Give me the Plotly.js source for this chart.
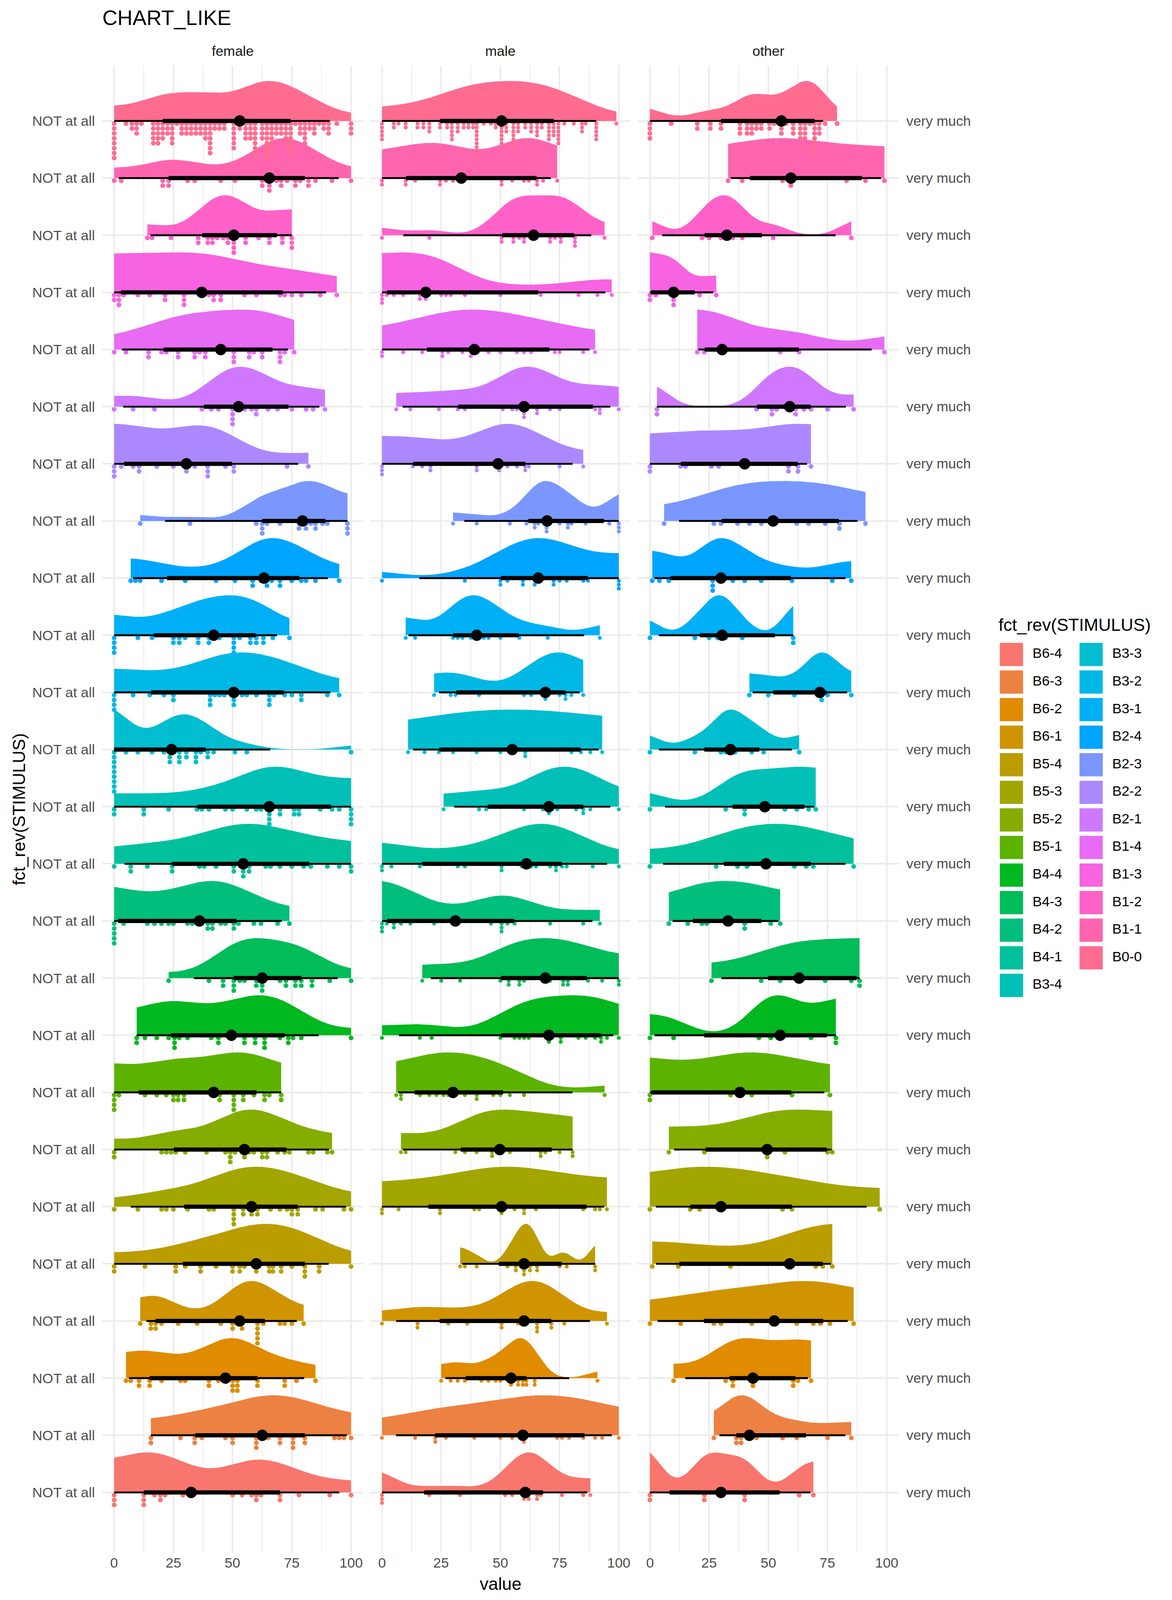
<!DOCTYPE html>
<html>
<head>
<meta charset="utf-8">
<script src="https://cdn.plot.ly/plotly-3.0.1.min.js"></script>
<style>
html, body { margin: 0; padding: 0; background: #fff; overflow: hidden; }
#graph { width: 100vw; height: 100vh; }
</style>
</head>
<body>
<div id="graph"></div>
<script>
// stimuli from top row to bottom row
const stimuli = ['B0-0', 'B1-1', 'B1-2', 'B1-3', 'B1-4', 'B2-1', 'B2-2', 'B2-3', 'B2-4',
    'B3-1', 'B3-2', 'B3-3', 'B3-4', 'B4-1', 'B4-2', 'B4-3', 'B4-4',
    'B5-1', 'B5-2', 'B5-3', 'B5-4', 'B6-1', 'B6-2', 'B6-3', 'B6-4'];
const panels = ['female', 'male', 'other'];
const xTicks = [0, 25, 50, 75, 100];
const leftLabel = 'NOT at all';
const rightLabel = 'very much';

// ratings per stimulus (same order as stimuli)
const female = [
    [0,0,0,0,0,0,0,0,5,7.5,7.5,9.5,9.5,9.5,11.5,16.5,16.5,16.5,16.5,16.5,18.5,18.5,18.5,18.5,18.5,20.5,20.5,20.5,20.5,22.5,22.5,22.5,24.5,24.5,24.5,24.5,24.5,26.5,28.5,28.5,28.5,30.5,30.5,30.5,32.5,32.5,32.5,34.5,34.5,34.5,36.5,36.5,36.5,38.5,38.5,38.5,38.5,40.5,40.5,40.5,40.5,40.5,40.5,40.5,42.5,42.5,44.5,44.5,46.5,46.5,50.5,50.5,50.5,50.5,50.5,50.5,53,53,55.5,55.5,55.5,55.5,57.5,57.5,57.5,57.5,59.5,59.5,59.5,59.5,59.5,59.5,59.5,59.5,62.5,62.5,62.5,62.5,64.5,64.5,64.5,64.5,64.5,64.5,64.5,64.5,66.5,66.5,66.5,66.5,66.5,66.5,66.5,68.5,68.5,68.5,70.5,70.5,70.5,72.5,72.5,72.5,72.5,72.5,74.5,74.5,74.5,74.5,74.5,74.5,74.5,76.5,78.5,78.5,78.5,80.5,80.5,80.5,80.5,80.5,82.5,82.5,84.5,84.5,84.5,86.5,88.5,88.5,90.5,90.5,90.5,94,100,100,100],
    [0,3,20.5,20.5,23,23,31,34,45,51,62.5,62.5,65.5,65.5,65.5,68.5,70.5,70.5,73,76.5,76.5,78.5,82,82,85,92,100],
    [14,16,24,35.5,35.5,39.5,39.5,41.5,41.5,43.5,46,48,48,50.5,50.5,50.5,50.5,55.5,55.5,61,65.5,65.5,71,71,75,75,75],
    [0,0,2,2,2,4,10,15,21.5,21.5,29.5,29.5,29.5,37,40,42,42,45,45,55,60,70,72,75,79,87,94],
    [0,5,14.5,14.5,20,22,27,27,34,34,36,38.5,38.5,45,50.5,50.5,50.5,57,57,59,62.5,62.5,70,70,70,72,76],
    [0,8,17,37,41,44,50,50,50,50,55,58,60,60,65,69,75,81,84,89],
    [0,0,0,3,8,10.5,10.5,18,25,30.5,30.5,34,39.5,39.5,39.5,47,50.5,50.5,73,82],
    [11,32,60,62.5,62.5,62.5,64.5,70,78,78,79.5,81,81,83,85,85,88,90,98.5,98.5,98.5],
    [7,9,11,20,30,43,51,58.5,58.5,62,64.5,64.5,66.5,70,70,75,79,81,85,95],
    [0,0,0,0,10,16,25,25,27.5,27.5,30,35.5,35.5,40,40,42,42.5,44.5,50.5,50.5,50.5,50.5,53,57.5,57.5,60,60,63,63,67,74],
    [0,0,0,0,8,15,21,25,25,40.5,40.5,40.5,42.5,44.5,46.5,50.5,50.5,50.5,54,56,60,65.5,65.5,65.5,67.5,72,75,79,79,90,95],
    [0,0,0,0,0,0,0,0,0,5,10,16,21,23.5,23.5,23.5,25,27.5,27.5,27.5,30.5,30.5,34.5,34.5,34.5,36.5,39.5,39.5,42,51,56,100],
    [0,0,12.5,12.5,23,35,37,40,47,50,56,60,62,65.5,65.5,65.5,65.5,65.5,70,70,76,76,78,78,87,92,95,100,100,100,100],
    [0,7,7,14,24.5,24.5,36,38,43,50.5,50.5,54.5,54.5,54.5,57,57,64,66,70,75,80,83,90,95,100,100],
    [0,0,0,0,0,4,14,17,20,23,25,31,33,36,39.5,39.5,41.5,41.5,45,47,50.5,50.5,52.5,59,62,69,74],
    [23,40,46,46,50.5,50.5,50.5,53,55,60,60,60.5,62.5,62.5,62.5,70,72.5,72.5,76.5,76.5,79,79,83.5,83.5,91,100],
    [9.5,9.5,13,18,23,25.5,25.5,25.5,27.5,31,41,44,44,49.5,55,55,59.5,59.5,63.5,63.5,63.5,70,73.5,73.5,75.5,79,100],
    [0,0,0,0,2,13,18,22,25,25,27,27,29.5,29.5,42,44.5,44.5,50.5,50.5,50.5,50.5,54.5,54.5,59,63.5,63.5,65.5,70.5,70.5],
    [0,0,20,22,24,26,30,39,47,49,49,49,51,55,55,57,59,62.5,62.5,64.5,64.5,69,72,74,82,84,90,92],
    [0,10,20,22,25,31,40,42,50.5,50.5,50.5,50.5,54.5,54.5,58,58,60.5,60.5,66,70,73,75,75,77.5,77.5,85,88,97,100],
    [0,0,13,26,26,30,36.5,36.5,43,50,50,53,53,55,60,60,65.5,65.5,67,67,70.5,70.5,75,80.5,80.5,80.5,86.5,86.5,100],
    [11,15.5,15.5,17.5,17.5,20,27,35,45,50,50,52,54,54,60.5,60.5,60.5,60.5,60.5,63,70,72,75,80],
    [5,7,10.5,10.5,15,15,20,28,30,40,40,44,47,50,50,50,52,52,52,60.5,60.5,72,72,77,85],
    [15.5,15.5,28,34,34,37,47,50,50,60,60,60,62.5,65,70,70,75.5,75.5,75.5,80.5,80.5,93,95,97,100],
    [0,0,0,12.5,12.5,12.5,17,19.5,19.5,21.5,29,32.5,50,54,58,60,60,62,70,70,78,91,100]
];

const male = [
    [0,0,0,0,0,5,5,7,10,10,15,15,17.5,17.5,20,20,20,24.5,24.5,27.5,27.5,29.5,29.5,29.5,29.5,29.5,32,32,32,34.5,34.5,36.5,36.5,38.5,38.5,40,40,40,40,40,40,40,40,40,40,43,46,48,48,50.5,50.5,50.5,50.5,50.5,50.5,52.5,52.5,52.5,55.5,55.5,55.5,55.5,55.5,55.5,55.5,55.5,57.5,57.5,57.5,60.5,60.5,63,63,63,65.5,65.5,65.5,65.5,67.5,67.5,70.5,70.5,70.5,70.5,70.5,72.5,72.5,72.5,72.5,74.5,74.5,74.5,74.5,74.5,74.5,77,81,84.5,84.5,84.5,86,90.5,90.5,90.5,90.5,90.5,99],
    [0,0,10,10,14,24.5,24.5,27,30,33.5,50.5,50.5,55,60,62,65.5,65.5,68,74],
    [0,20,50.5,50.5,55.5,55.5,58,60,60,64,71,71,73,75.5,75.5,81.5,81.5,81.5,94],
    [0,0,0,2,5,9,16,16,18.5,18.5,25,27,29,35,50,67,83,91,97],
    [0,0,9,17,25.5,25.5,28,34,37.5,37.5,40.5,45,50,57,60,63,73,75,85,90],
    [6,12,24,32,35,51,55,57,60,60,60,65.5,65.5,71,75,90,92,92,100],
    [0,0,0,13,17,20.5,20.5,40,40,49,49.5,49.5,53,57,60.5,60.5,62,75,85],
    [30,40,54,61,64.5,64.5,66,69.5,69.5,69.5,70,75,78.5,78.5,80,86,96,100,100,100],
    [0,35,50,50,53,59.5,59.5,64.5,64.5,66,72.5,72.5,75,78,85,87,100,100,100],
    [10,14,30,32,34,37.5,40,43,45,50,58,70,92],
    [22,29,31,41,60,63,69,69,75,77.5,77.5,80,85],
    [11,18,24,30,40,50,55,60.5,60.5,80,84,88,93],
    [26,41,44,60,68,70.5,70.5,74,82,85,85,88,100],
    [0,0,4,16,32,35,50.5,50.5,59,61,63,65,71,73.5,73.5,76,78,89,100],
    [0,0,0,2,5,5,8,12,22,31,46,50.5,50.5,50.5,53,56,71,85,92],
    [17,25,33,50,53.5,53.5,58,58,60,69,71,76.5,76.5,78.5,78.5,87,93,100,100],
    [0,16,21,50,56,58,60,62,70.5,70.5,75.5,75.5,83,86,90,92.5,92.5,95,100],
    [6,8,8,16,20,23,26,28,30,35,40,40,47,50,54,60,94],
    [8,10,31,35,40,46.5,46.5,49.5,50,54,67,67,69,75,80.5,80.5],
    [0,0,7,24.5,24.5,39,41,50.5,50.5,56,60,60,65,85,90,92,95],
    [33,35,40,53,56.5,56.5,60,60,60,62.5,62.5,65.5,65.5,75,78,90,90],
    [0,15,15,28,36,50.5,50.5,57.5,60,60.5,65.5,65.5,65.5,71.5,71.5,77,95],
    [25,29,32,35,42,45,48,50,54.5,54.5,57.5,57.5,59.5,59.5,61,61,64.5,64.5,91],
    [0,14,22.5,22.5,27,39,50,55,59,60,60,74,76,79,85,90,93,100],
    [0,0,0,20,33,52,55,60,60,61,62,62,65.5,65.5,67,76,85,88]
];

const other = [
    [0,0,0,0,9,20,20,25.5,25.5,30,30,38,38,38,41,41,41,43,43,43,45,45,47,47,50.5,50.5,52.5,55.5,55.5,55.5,57.5,60.5,60.5,60.5,63.5,63.5,63.5,63.5,65.5,65.5,65.5,65.5,67.5,69.5,69.5,69.5,69.5,69.5,69.5,69.5,71.5,71.5,71.5,74,79],
    [33,39,56,59.5,59.5,83,91,99],
    [1,22,25,30,32.5,35,39,52,85],
    [0,0,2.5,10,10,10,21,28],
    [20,23,29.5,30.5,55,63,99],
    [3,3,45,51.5,51.5,53.5,59,61.5,61.5,65,68,75,86],
    [0,0,13,15,26,29,40,40.5,58.5,58.5,62.5,62.5,68],
    [6,27,30,37,42,47,52,62,67,74,80,80,91],
    [1,4,8,26.5,26.5,26.5,30,35,40,47,60,77,85],
    [0,19,25,28.5,30.5,32,39,60.5,60.5],
    [42,50,61,71,72.5,72.5,75,85],
    [0,19,30,32,34,36,43,48,63],
    [0,32,40,40,48.5,57,62,67,70],
    [0,28,37,41,49,61,66,69,86],
    [8,16,22,24,33,40,40,51,55],
    [26,47,55,62.5,63,74,85,88.5,88.5],
    [0,10,46,51,55,55.5,68,78.5,78.5],
    [0,0,34,38,43,60,76],
    [8,23,49.5,49.5,57,75,77],
    [0,17,21,30,56,60,97],
    [1,12,34,59,70,73,77],
    [0,13,27,30,43,52.5,62,69,72,76,86],
    [10,32,35,35,43.5,43.5,60.5,60.5,62.5,68],
    [27,36.5,36.5,38.5,38.5,42,45,56,62,75,85],
    [0,0,23,23,30,40,40,63,69]
];

const FONT = 'Liberation Sans, Arial, sans-serif';
const SLAB_H = 0.7;          // slab height in rows
const DOT_OFF = 0.046;       // first dot below the row line
const BOUND_PAD = 0.6;       // reflection bound beyond the data, in bandwidths
const dotStyle = [           // per panel: marker size px, stack step in rows
    {size: 12.5, step: 0.086},
    {size: 10.4, step: 0.069},
    {size: 12.5, step: 0.086}
];

// the chart is laid out for 3000x4200; px sizes follow the real viewport
const W = window.innerWidth || 3000;
const H = window.innerHeight || 4200;
const K = Math.min(W / 3000, H / 4200);
function px(v) { return v * K; }

// ggplot2 hue palette (hcl, l=65, c=100)
function hcl(h, c, l) {
    const WY = 100, Wu = 0.1978398, Wv = 0.4683363;
    const hr = h * Math.PI / 180;
    const U = c * Math.cos(hr), V = c * Math.sin(hr);
    const Y = WY * (l > 7.999592 ? Math.pow((l + 16) / 116, 3) : l / 903.3);
    const u = U / (13 * l) + Wu;
    const v = V / (13 * l) + Wv;
    const X = 9.0 * Y * u / (4 * v);
    const Z = -X / 3 - 5 * Y + 3 * Y / v;
    const lin = [
        (3.240479 * X - 1.537150 * Y - 0.498535 * Z) / WY,
        (-0.969256 * X + 1.875992 * Y + 0.041556 * Z) / WY,
        (0.055648 * X - 0.204043 * Y + 1.057311 * Z) / WY
    ];
    return '#' + lin.map(function (t) {
        let g = t > 0.00304 ? 1.055 * Math.pow(t, 1 / 2.4) - 0.055 : 12.92 * t;
        g = Math.min(1, Math.max(0, g));
        return Math.round(255 * g).toString(16).padStart(2, '0');
    }).join('');
}

const nLev = stimuli.length;
// level i counts from the bottom row (fct_rev)
function colorOf(s) {
    const i = nLev - 1 - s;
    return hcl(15 + 360 * i / nLev, 100, 65);
}

function quantile(sorted, p) {
    const h = (sorted.length - 1) * p;
    const lo = Math.floor(h);
    const hi = Math.min(lo + 1, sorted.length - 1);
    return sorted[lo] + (h - lo) * (sorted[hi] - sorted[lo]);
}

function sdev(x) {
    const m = x.reduce((a, b) => a + b, 0) / x.length;
    return Math.sqrt(x.reduce((a, b) => a + (b - m) * (b - m), 0) / (x.length - 1));
}

function nrd0(sorted) {
    const hi = sdev(sorted);
    let lo = Math.min(hi, (quantile(sorted, 0.75) - quantile(sorted, 0.25)) / 1.34);
    if (!(lo > 0)) lo = hi || 1;
    return 0.9 * lo * Math.pow(sorted.length, -0.2);
}

function phi(x, h, order) {
    const n = x.length;
    let sum = 0;
    for (let i = 0; i < n; i++) {
        for (let j = i + 1; j < n; j++) {
            const d = (x[i] - x[j]) / h;
            const del = d * d;
            if (del >= 1000) continue;
            if (order === 4) sum += Math.exp(-del / 2) * (del * del - 6 * del + 3);
            else sum += Math.exp(-del / 2) * (del * del * del - 15 * del * del + 45 * del - 15);
        }
    }
    if (order === 4) return (2 * sum + 3 * n) / (n * (n - 1) * Math.pow(h, 5) * Math.sqrt(2 * Math.PI));
    return (2 * sum - 15 * n) / (n * (n - 1) * Math.pow(h, 7) * Math.sqrt(2 * Math.PI));
}

// Sheather-Jones direct plug-in, like bw.SJ(method = "dpi")
function bwDpi(sorted) {
    const n = sorted.length;
    let scale = Math.min(sdev(sorted), (quantile(sorted, 0.75) - quantile(sorted, 0.25)) / 1.349);
    if (!(scale > 0)) scale = sdev(sorted) || 1;
    const b = 1.23 * scale * Math.pow(n, -1 / 9);
    const c1 = 1 / (2 * Math.sqrt(Math.PI) * n);
    const TD = -phi(sorted, b, 6);
    if (!(TD > 0)) return nrd0(sorted);
    const res = Math.pow(c1 / phi(sorted, Math.pow(2.394 / (n * TD), 1 / 7), 4), 1 / 5);
    return (isFinite(res) && res > 0) ? res : nrd0(sorted);
}

// density reflected a little beyond the data range, drawn over the data range
function boundedDensity(sorted, bw, nGrid) {
    const x0 = sorted[0], x1 = sorted[sorted.length - 1];
    const a = x0 - BOUND_PAD * bw, b = x1 + BOUND_PAD * bw;
    const xs = [], ds = [];
    for (let g = 0; g < nGrid; g++) {
        const x = x0 + (x1 - x0) * g / (nGrid - 1);
        let d = 0;
        sorted.forEach(function (v) {
            [v, 2 * a - v, 2 * b - v].forEach(function (w) {
                const z = (x - w) / bw;
                d += Math.exp(-0.5 * z * z);
            });
        });
        xs.push(x);
        ds.push(d);
    }
    return {x: xs, d: ds};
}

function axisName(p, letter) {
    return p === 0 ? letter : letter + (p + 1);
}

function buildTraces() {
    const slabs = [], dots = [], thin = [], thick = [], points = [];
    [female, male, other].forEach(function (data, p) {
        const xa = axisName(p, 'x');
        const dx = [], dy = [], dc = [];
        const tx = [], ty = [], kx = [], ky = [], mx = [], my = [];
        data.forEach(function (vals, s) {
            const row = nLev - s;
            const col = colorOf(s);
            const sorted = vals.slice().sort((a, b) => a - b);

            const dens = boundedDensity(sorted, bwDpi(sorted), 240);
            const dmax = Math.max.apply(null, dens.d);
            const sx = [sorted[0]].concat(dens.x, [sorted[sorted.length - 1]]);
            const sy = [row].concat(dens.d.map(d => row + SLAB_H * d / dmax), [row]);
            slabs.push({
                type: 'scatter', mode: 'lines', x: sx, y: sy, xaxis: xa, yaxis: 'y',
                fill: 'toself', fillcolor: col, line: {width: 0, color: col},
                hoverinfo: 'skip', showlegend: false
            });

            const stack = {};
            sorted.forEach(function (v) {
                const k = stack[v] || 0;
                stack[v] = k + 1;
                dx.push(v);
                dy.push(row - DOT_OFF - k * dotStyle[p].step);
                dc.push(col);
            });

            tx.push(quantile(sorted, 0.025), quantile(sorted, 0.975), null);
            ty.push(row, row, null);
            kx.push(quantile(sorted, 0.17), quantile(sorted, 0.83), null);
            ky.push(row, row, null);
            mx.push(quantile(sorted, 0.5));
            my.push(row);
        });
        dots.push({
            type: 'scatter', mode: 'markers', x: dx, y: dy, xaxis: xa, yaxis: 'y',
            marker: {size: px(dotStyle[p].size), color: dc, line: {width: 0}},
            hoverinfo: 'skip', showlegend: false
        });
        thin.push({
            type: 'scatter', mode: 'lines', x: tx, y: ty, xaxis: xa, yaxis: 'y',
            line: {color: '#000000', width: px(5)}, hoverinfo: 'skip', showlegend: false
        });
        thick.push({
            type: 'scatter', mode: 'lines', x: kx, y: ky, xaxis: xa, yaxis: 'y',
            line: {color: '#000000', width: px(11)}, hoverinfo: 'skip', showlegend: false
        });
        points.push({
            type: 'scatter', mode: 'markers', x: mx, y: my, xaxis: xa, yaxis: 'y',
            marker: {size: px(30), color: '#000000', line: {width: 0}},
            hoverinfo: 'skip', showlegend: false
        });
    });
    return slabs.concat(dots, thin, thick, points);
}

// legend drawn as a small grid: two columns of 13
function legendTraces() {
    const lx = [], ly = [], lc = [], lt = [], tx = [];
    for (let i = 0; i < nLev; i++) {
        const s = nLev - 1 - i;
        const c = Math.floor(i / 13), r = i % 13;
        lx.push(c);
        ly.push(r);
        lc.push(colorOf(s));
        lt.push(stimuli[s]);
        tx.push(c + 0.265);
    }
    return [{
        type: 'scatter', mode: 'markers', x: lx, y: ly, xaxis: 'x4', yaxis: 'y4',
        marker: {symbol: 'square', size: px(61), color: lc, line: {width: 0}},
        hoverinfo: 'skip', showlegend: false, cliponaxis: false
    }, {
        type: 'scatter', mode: 'text', x: tx, y: ly, xaxis: 'x4', yaxis: 'y4',
        text: lt, textposition: 'middle right',
        textfont: {family: FONT, size: px(36.7), color: '#000000'},
        hoverinfo: 'skip', showlegend: false, cliponaxis: false
    }];
}

function xAxis(domain) {
    return {
        domain: domain, range: [-5, 105], anchor: 'y',
        tickmode: 'array', tickvals: xTicks, showticklabels: false, ticks: '',
        showgrid: true, gridcolor: '#EBEBEB', gridwidth: px(4.4),
        minor: {tick0: 0, dtick: 12.5, showgrid: true, gridcolor: '#EBEBEB', gridwidth: px(2.2)},
        zeroline: false, showline: false, fixedrange: true
    };
}

function init_plot() {
    const rows = stimuli.map((s, i) => nLev - i);
    const domains = [[0.0873, 0.30963], [0.31583, 0.53807], [0.5444, 0.76677]];
    const tickFont = {family: FONT, size: px(36.7), color: '#4D4D4D'};

    const annotations = [];
    panels.forEach(function (name, p) {
        annotations.push({
            text: name, xref: axisName(p, 'x') + ' domain', x: 0.5, xanchor: 'center',
            yref: 'paper', y: 0.9681, yanchor: 'middle', showarrow: false,
            font: {family: FONT, size: px(36.7), color: '#1A1A1A'}
        });
        // x tick labels under each panel
        xTicks.forEach(function (t) {
            annotations.push({
                text: String(t), xref: axisName(p, 'x'), x: t, xanchor: 'center',
                yref: 'paper', y: 0.0231, yanchor: 'middle', showarrow: false,
                font: tickFont
            });
        });
    });
    rows.forEach(function (r) {
        annotations.push({
            text: rightLabel, xref: 'paper', x: 0.7727, xanchor: 'left',
            yref: 'y', y: r, yanchor: 'middle', showarrow: false,
            font: tickFont
        });
    });
    annotations.push({
        text: 'value', xref: 'paper', x: 0.427, xanchor: 'center',
        yref: 'paper', y: 0.0102, yanchor: 'middle', showarrow: false,
        font: {family: FONT, size: px(45.8), color: '#000000'}
    });
    annotations.push({
        text: 'fct_rev(STIMULUS)', xref: 'paper', x: 0.016, xanchor: 'center',
        yref: 'paper', y: 0.4943, yanchor: 'middle', textangle: -90, showarrow: false,
        font: {family: FONT, size: px(45.8), color: '#000000'}
    });
    annotations.push({
        text: 'fct_rev(STIMULUS)', xref: 'paper', x: 0.8513, xanchor: 'left',
        yref: 'paper', y: 0.6095, yanchor: 'middle', showarrow: false,
        font: {family: FONT, size: px(45.8), color: '#000000'}
    });

    const layout = {
        width: W, height: H,
        margin: {l: 0, r: 0, t: 0, b: 0},
        paper_bgcolor: '#FFFFFF', plot_bgcolor: '#FFFFFF',
        font: {family: FONT, color: '#000000'},
        title: {
            text: 'CHART_LIKE', x: 0.0873, xanchor: 'left', xref: 'paper',
            y: 0.989, yanchor: 'middle', font: {family: FONT, size: px(55), color: '#000000'}
        },
        showlegend: false,
        xaxis: xAxis(domains[0]),
        xaxis2: xAxis(domains[1]),
        xaxis3: xAxis(domains[2]),
        yaxis: {
            domain: [0.029524, 0.95905], range: [-0.056, 25.97], anchor: 'x',
            tickmode: 'array', tickvals: rows, ticktext: rows.map(() => leftLabel),
            ticks: '', ticklabelstandoff: Math.round(px(18)),
            tickfont: tickFont,
            showgrid: true, gridcolor: '#EBEBEB', gridwidth: px(4.4),
            zeroline: false, showline: false, fixedrange: true
        },
        xaxis4: {domain: [0.829, 0.999], range: [-0.5, 2], anchor: 'y4', visible: false, fixedrange: true},
        yaxis4: {domain: [0.37381, 0.59786], range: [12.6, -0.4], anchor: 'x4', visible: false, fixedrange: true},
        annotations: annotations
    };

    Plotly.react('graph', buildTraces().concat(legendTraces()), layout, {displayModeBar: false, responsive: false});
}

window.addEventListener('load', init_plot, false);
</script>
</body>
</html>
